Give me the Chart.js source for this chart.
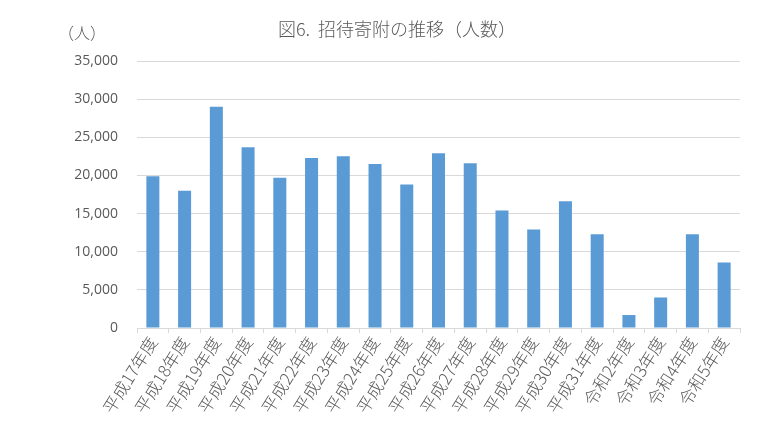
<!DOCTYPE html>
<html>
<head>
<meta charset="utf-8">
<script src="https://cdn.jsdelivr.net/npm/chart.js@4"></script>
<style>
  html, body { margin: 0; padding: 0; background: #fff; }
  #wrap { width: 757px; height: 432px; }
</style>
</head>
<body>
<div id="wrap"><canvas id="donationChart" width="757" height="432"></canvas></div>
<script>
const categories = ['平成17年度', '平成18年度', '平成19年度', '平成20年度', '平成21年度', '平成22年度',
  '平成23年度', '平成24年度', '平成25年度', '平成26年度', '平成27年度', '平成28年度', '平成29年度',
  '平成30年度', '平成31年度', '令和2年度', '令和3年度', '令和4年度', '令和5年度'];
const people = [19900, 18000, 29000, 23700, 19700, 22300, 22500, 21500, 18800, 22900,
  21600, 15400, 12900, 16600, 12300, 1700, 4000, 12300, 8600];
const yTicks = [0, 5000, 10000, 15000, 20000, 25000, 30000, 35000];

const titleText = '図6.  招待寄附の推移（人数）';
const unitText = '（人）';
const font = '"Noto Sans CJK JP", "Noto Sans", sans-serif';
const textColor = '#595959';

// title and unit label drawn straight on the canvas
const labelsPlugin = {
  id: 'labels',
  afterDraw(chart) {
    const c = chart.ctx;
    c.save();
    c.fillStyle = textColor;
    c.textBaseline = 'middle';
    c.font = '300 18px ' + font;
    c.textAlign = 'center';
    c.fillText(titleText, 397, 29);
    c.font = '300 16px ' + font;
    c.textAlign = 'left';
    c.fillText(unitText, 58, 33);
    c.restore();
  }
};

const ctx = document.getElementById('donationChart').getContext('2d');
new Chart(ctx, {
  type: 'bar',
  data: {
    labels: categories,
    datasets: [{
      label: '人数',
      data: people,
      backgroundColor: '#5B9BD5',
      borderWidth: 0,
      barPercentage: 0.41,
      categoryPercentage: 1.0
    }]
  },
  options: {
    responsive: false,
    animation: false,
    layout: { padding: { top: 61, right: 17, left: 0, bottom: 0 } },
    plugins: {
      legend: { display: false },
      tooltip: { enabled: false }
    },
    scales: {
      x: {
        grid: { drawOnChartArea: false, color: '#D9D9D9', tickLength: 5 },
        border: { color: '#D9D9D9' },
        ticks: {
          color: textColor,
          font: { family: font, size: 17, weight: 300 },
          minRotation: 58,
          maxRotation: 58,
          autoSkip: false,
          padding: 0
        },
        afterFit(scale) { scale.height = 104; }
      },
      y: {
        min: 0,
        max: 35000,
        afterBuildTicks(scale) { scale.ticks = yTicks.map(v => ({ value: v })); },
        grid: { color: '#D9D9D9', drawTicks: false },
        border: { display: false },
        ticks: {
          color: textColor,
          font: { family: '"Open Sans", sans-serif', size: 14 },
          padding: 19,
          callback: v => v.toLocaleString('en-US')
        },
        afterFit(scale) { scale.width = 137; }
      }
    }
  },
  plugins: [labelsPlugin]
});
</script>
</body>
</html>
